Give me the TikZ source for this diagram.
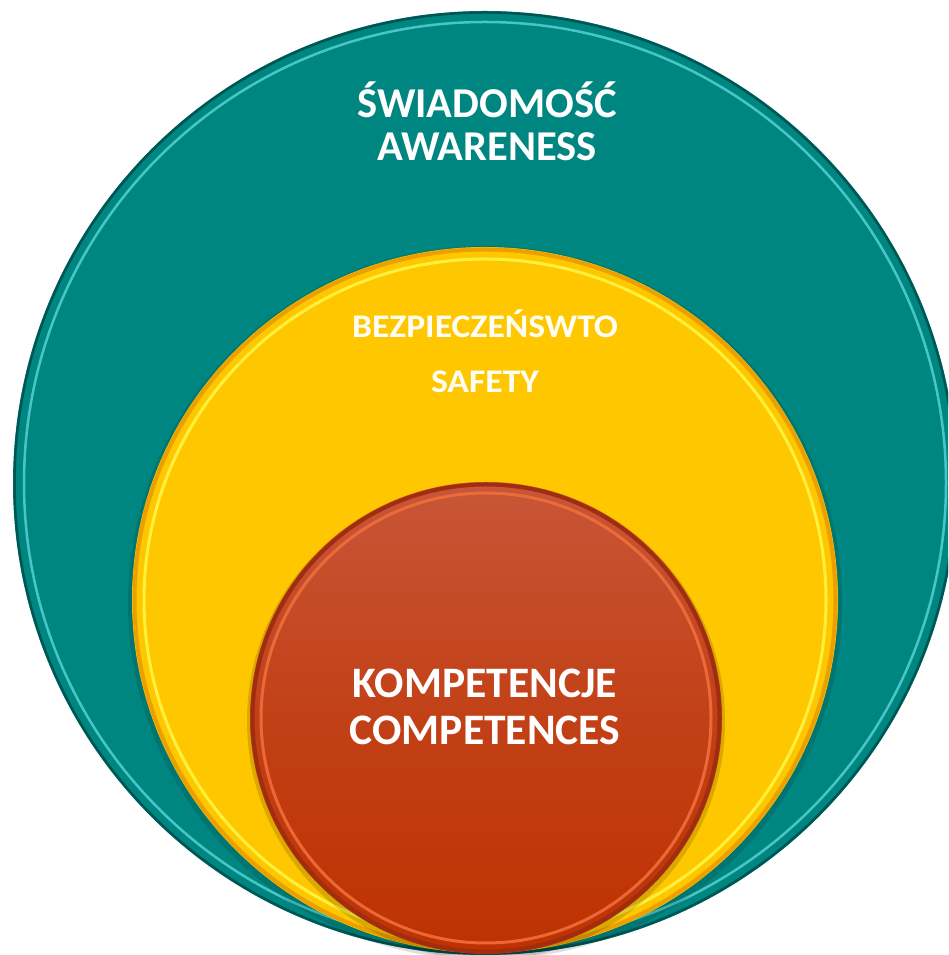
\documentclass[tikz,border=0pt]{standalone}
\usepackage{fontspec}
\setmainfont{Carlito}
\definecolor{tealfill}{RGB}{0,134,129}
\definecolor{tealedge}{RGB}{0,85,85}
\definecolor{tealrim}{RGB}{90,215,215}
\definecolor{yelfill}{RGB}{255,199,0}
\definecolor{yeledge}{RGB}{235,160,0}
\definecolor{yelrim}{RGB}{255,240,60}
\definecolor{redtop}{RGB}{200,86,56}
\definecolor{redbot}{RGB}{190,50,0}
\definecolor{rededge}{RGB}{160,45,15}
\definecolor{redrim}{RGB}{240,110,60}
\tikzset{
  lbl/.style={anchor=base, text=white, font=\bfseries, inner sep=0pt},
}
\begin{document}
\begin{tikzpicture}[x=1pt,y=1pt]
\useasboundingbox (0,0) rectangle (948,955);
\clip (0,0) rectangle (948,955);
\fill[white] (0,0) rectangle (948,955);
% outer teal
\coordinate (co) at (485,472);
\fill[tealfill] (co) circle (472);
\draw[tealedge, line width=2.5] (co) circle (470.5);
\draw[tealrim, line width=2.5, opacity=0.8] (co) circle (461);
% yellow
\coordinate (cy) at (485,355);
\fill[black, opacity=0.12] (485,352) circle (357);
\fill[yelfill] (cy) circle (353);
\draw[yeledge, line width=4] (cy) circle (350.5);
\draw[yelrim, line width=3] (cy) circle (341);
% red
\coordinate (cr) at (486,237);
\fill[black, opacity=0.15] (486,234) circle (239);
\shade[top color=redtop, bottom color=redbot, middle color=redbot!60!redtop] (cr) circle (236);
\draw[rededge, line width=4] (cr) circle (233.5);
\draw[redrim, line width=3, opacity=0.9] (cr) circle (225);
% labels
\node[lbl, font=\bfseries\fontsize{42.5}{42.5}\selectfont] (t1) at (487,837) {ŚWIADOMOŚĆ};
\node[lbl, font=\bfseries\fontsize{42.5}{42.5}\selectfont] (t2) at (487,794) {AWARENESS};
\node[lbl, xscale=1.08, text=white!96!yellow, font=\bfseries\fontsize{33}{33}\selectfont] (t3) at (485,617) {BEZPIECZEŃSWTO};
\node[lbl, xscale=1.08, text=white!96!yellow, font=\bfseries\fontsize{33}{33}\selectfont] (t4) at (485,562) {SAFETY};
\node[lbl, font=\bfseries\fontsize{43.5}{43.5}\selectfont] (t5) at (485,257) {KOMPETENCJE};
\node[lbl, font=\bfseries\fontsize{43.5}{43.5}\selectfont] (t6) at (485,210) {COMPETENCES};
\end{tikzpicture}
\end{document}
